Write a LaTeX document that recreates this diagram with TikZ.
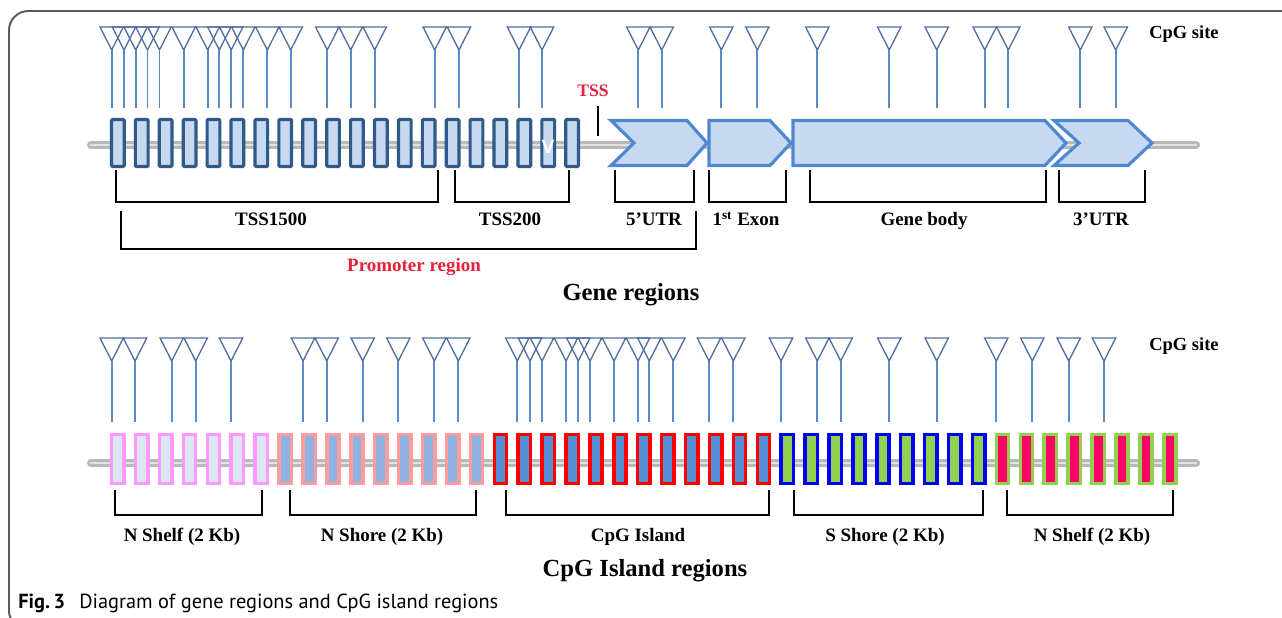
\documentclass[tikz,border=0pt]{standalone}
\usepackage{fontspec}
\setmainfont{Liberation Serif}
\newfontfamily\capfont{PT Sans}
\newfontfamily\vfont{Liberation Sans}
\definecolor{triC}{HTML}{4F6E9E}
\definecolor{stemC}{HTML}{5B8BCB}
\definecolor{rectB}{HTML}{2F5A8A}
\definecolor{rectF}{HTML}{C6D9F1}
\definecolor{arrB}{HTML}{4F88D0}
\definecolor{bbO}{HTML}{B8B8B8}
\definecolor{bbI}{HTML}{E2E2E2}
\definecolor{redT}{HTML}{E8203A}
\definecolor{gOneB}{HTML}{FF99FF}
\definecolor{gOneF}{HTML}{DCE6F2}
\definecolor{gTwoB}{HTML}{FF9B9B}
\definecolor{gTwoF}{HTML}{8DB3E2}
\definecolor{gThreeB}{HTML}{FF0000}
\definecolor{gThreeF}{HTML}{558ED5}
\definecolor{gFourB}{HTML}{0000FF}
\definecolor{gFourF}{HTML}{92D050}
\definecolor{gFiveB}{HTML}{92D050}
\definecolor{gFiveF}{HTML}{FF0066}
\definecolor{frameC}{HTML}{5A5A5A}
\begin{document}
\begin{tikzpicture}[x=0.02cm,y=-0.02cm,
  tri/.style={draw=triC, line width=0.75pt},
  stemline/.style={draw=stemC, line width=1.1pt},
  brk/.style={draw=black, line width=0.8pt},
  lbl/.style={font=\fontsize{10.8}{12}\selectfont\bfseries, inner sep=0pt, anchor=base},
  ttl/.style={font=\fontsize{14}{16}\selectfont\bfseries, inner sep=0pt, anchor=base},
  toprect/.style={draw=rectB, fill=rectF, line width=1.8pt, rounded corners=0.6pt},
  botrect/.style={line width=2pt},
  arrowshape/.style={draw=arrB, fill=rectF, line width=1.8pt, line join=miter},
  pics/cpg/.style={code={
    \draw[tri] (-11.7,0) -- (11.7,0) -- (0,23) -- cycle;
    \draw[stemline] (0,23) -- (0,#1);
  }}]
\useasboundingbox (0,0) rectangle (1282,618);
\clip (0,0) rectangle (1282,618);
\fill[white] (0,0) rectangle (1282,618);

% frame
\draw[frameC, line width=1.1pt, rounded corners=11] (1300,11) -- (9,11) -- (9,630) -- (60,630);

% ================= Gene regions =================
% backbone
\draw[bbO, line width=4.6pt, line cap=round] (91,145) -- (1196,145);
\draw[bbI, line width=1.6pt, line cap=round] (91,145) -- (1196,145);

% promoter boxes
\foreach \i in {0,...,19} {
  \draw[toprect] ({111.5+23.91*\i},119.5) rectangle ++(12.7,47);
}
\node[font=\vfont\bfseries\fontsize{11}{12}\selectfont, text=white, inner sep=0pt] (vmark) at (548,147) {V};

% gene arrows
\draw[arrowshape] (611,120.5) -- (687,120.5) -- (707,143) -- (687,165.5) -- (611,165.5) -- (634,143) -- cycle;
\draw[arrowshape] (709,120.5) -- (770,120.5) -- (791,143) -- (770,165.5) -- (709,165.5) -- cycle;
\draw[arrowshape] (793,120.5) -- (1045,120.5) -- (1066,143) -- (1045,165.5) -- (793,165.5) -- cycle;
\draw[arrowshape] (1054,120.5) -- (1128,120.5) -- (1152,143) -- (1128,165.5) -- (1054,165.5) -- (1079,143) -- cycle;

% CpG sites (top)
\foreach \x in {111.7,124,135.7,147.5,159.5,183.7,207.7,219.3,231.2,243.3,267.3,290.7,327.3,350.7,374.7,434.7,459,519,542,638.3,661.7,721.3,757.3,817.3,889.2,936.7,984.7,1008.3,1080.3,1115.7} {
  \pic at (\x,27) {cpg=81};
}
\node[lbl, font=\fontsize{10.5}{12}\selectfont\bfseries] (cpgtop) at (1184,39) {CpG site};

% TSS marker
\node[lbl, text=redT, font=\fontsize{10}{12}\selectfont\bfseries] (tss) at (593,97) {TSS};
\coordinate (tssA) at (598,106);
\coordinate (tssB) at (598,136);
\draw[brk] (tssA) -- (tssB);

% brackets
\draw[brk] (116,170) -- (116,202) -- (438,202) -- (438,170);
\draw[brk] (455,170) -- (455,202) -- (569,202) -- (569,170);
\draw[brk] (615,170) -- (615,202) -- (694,202) -- (694,170);
\draw[brk] (709,170) -- (709,202) -- (786,202) -- (786,170);
\draw[brk] (810,170) -- (810,202) -- (1046,202) -- (1046,170);
\draw[brk] (1059,170) -- (1059,202) -- (1145,202) -- (1145,170);
\draw[brk] (121,211) -- (121,249) -- (696,249) -- (696,211);

\node[lbl] (tss1500) at (271,226) {TSS1500};
\node[lbl] (tss200) at (510,226) {TSS200};
\node[lbl] (utr5) at (654,226) {5’UTR};
\node[lbl] (exon1) at (746,226) {1\textsuperscript{st} Exon};
\node[lbl] (gbody) at (924,226) {Gene body};
\node[lbl] (utr3) at (1101,226) {3’UTR};
\node[lbl, text=redT] (prom) at (414,272) {Promoter region};
\node[ttl] (generegions) at (631,301) {Gene regions};

% ================= CpG island regions =================
\draw[bbO, line width=4.6pt, line cap=round] (91,463) -- (1196,463);
\draw[bbI, line width=1.6pt, line cap=round] (91,463) -- (1196,463);

\foreach \i in {0,...,6} {
  \draw[botrect, draw=gOneB, fill=gOneF] ({111.7+23.91*\i},434.7) rectangle ++(12.3,48.6);
}
\foreach \i in {7,...,15} {
  \draw[botrect, draw=gTwoB, fill=gTwoF] ({111.7+23.91*\i},434.7) rectangle ++(12.3,48.6);
}
\foreach \i in {16,...,27} {
  \draw[botrect, draw=gThreeB, fill=gThreeF] ({111.7+23.91*\i},434.7) rectangle ++(12.3,48.6);
}
\foreach \i in {28,...,36} {
  \draw[botrect, draw=gFourB, fill=gFourF] ({111.7+23.91*\i},434.7) rectangle ++(12.3,48.6);
}
\foreach \i in {37,...,44} {
  \draw[botrect, draw=gFiveB, fill=gFiveF] ({111.7+23.91*\i},434.7) rectangle ++(12.3,48.6);
}

% CpG sites (bottom)
\foreach \x in {111.7,135,171.7,195.7,231,303,326.7,362.7,398.3,434.3,458.3,517.3,530,542,566,578.3,590,614,638,649.3,673.3,709,733.3,781,817.3,840.7,889.2,936.7,996.3,1032.3,1068.7,1104} {
  \pic at (\x,338) {cpg=84};
}
\node[lbl, font=\fontsize{10.5}{12}\selectfont\bfseries] (cpgbot) at (1184,351) {CpG site};

% brackets
\draw[brk] (115,490) -- (115,515) -- (262,515) -- (262,490);
\draw[brk] (290,490) -- (290,515) -- (476,515) -- (476,490);
\draw[brk] (506,490) -- (506,515) -- (769,515) -- (769,490);
\draw[brk] (794,490) -- (794,515) -- (983,515) -- (983,490);
\draw[brk] (1007,490) -- (1007,515) -- (1173,515) -- (1173,490);

\node[lbl] (nshelf1) at (182,541) {N Shelf (2 Kb)};
\node[lbl] (nshore) at (382,541) {N Shore (2 Kb)};
\node[lbl] (island) at (638,541) {CpG Island};
\node[lbl] (sshore) at (885,541) {S Shore (2 Kb)};
\node[lbl] (nshelf2) at (1092,541) {N Shelf (2 Kb)};
\node[ttl] (cpgregions) at (645,576) {CpG Island regions};

% caption
\node[anchor=west, inner sep=0pt, font=\capfont\fontsize{11.6}{13}\selectfont] (caption) at (18,603) {\textbf{Fig.\,3}\hspace{0.7em}Diagram of gene regions and CpG island regions};
\end{tikzpicture}
\end{document}
